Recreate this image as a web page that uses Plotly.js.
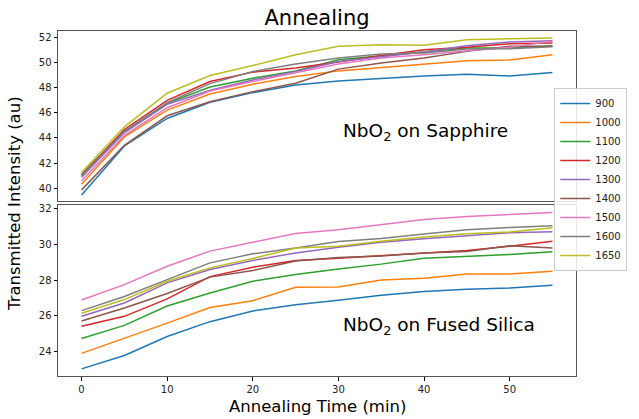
<!DOCTYPE html>
<html>
<head>
<meta charset="utf-8">
<script src="https://cdn.plot.ly/plotly-3.0.1.min.js"></script>
<style>html,body{margin:0;padding:0;background:#fff;}</style>
</head>
<body>
<div id="chart" style="width:639px;height:419px;"></div>
<script>
const times = [0, 5, 10, 15, 20, 25, 30, 35, 40, 45, 50, 55];
const temps = ['900', '1000', '1100', '1200', '1300', '1400', '1500', '1600', '1650'];
const colors = ['#1f77b4', '#ff7f0e', '#2ca02c', '#d62728', '#9467bd', '#8c564b', '#e377c2', '#7f7f7f', '#bcbd22'];

// NbO2 on Sapphire
const sapphire900  = [39.47, 43.36, 45.55, 46.83, 47.60, 48.21, 48.53, 48.75, 48.93, 49.07, 48.93, 49.20];
const sapphire1000 = [40.32, 44.08, 46.21, 47.49, 48.27, 48.88, 49.33, 49.60, 49.87, 50.13, 50.19, 50.61];
const sapphire1100 = [41.12, 44.53, 46.75, 48.05, 48.75, 49.33, 50.21, 50.53, 50.88, 51.15, 51.15, 51.33];
const sapphire1200 = [41.04, 44.67, 46.99, 48.48, 49.23, 49.55, 50.03, 50.56, 51.01, 51.20, 51.49, 51.55];
const sapphire1300 = [40.88, 44.43, 46.67, 47.79, 48.61, 49.28, 50.08, 50.48, 50.83, 51.33, 51.63, 51.73];
const sapphire1400 = [39.87, 43.41, 45.76, 46.88, 47.68, 48.35, 49.47, 49.95, 50.35, 50.88, 51.28, 51.28];
const sapphire1500 = [40.59, 44.21, 46.40, 47.73, 48.48, 49.15, 49.87, 50.35, 50.61, 50.93, 51.20, 51.68];
const sapphire1600 = [41.00, 44.53, 46.80, 48.32, 49.28, 49.87, 50.35, 50.67, 50.75, 51.07, 51.09, 51.25];
const sapphire1650 = [41.25, 44.88, 47.55, 48.96, 49.76, 50.61, 51.28, 51.41, 51.36, 51.81, 51.89, 51.95];

// NbO2 on Fused Silica
const silica900  = [23.02, 23.77, 24.84, 25.67, 26.27, 26.62, 26.87, 27.15, 27.37, 27.49, 27.56, 27.71];
const silica1000 = [23.89, 24.73, 25.59, 26.46, 26.85, 27.60, 27.62, 28.01, 28.11, 28.35, 28.35, 28.50];
const silica1100 = [24.73, 25.46, 26.55, 27.28, 27.94, 28.32, 28.63, 28.90, 29.23, 29.33, 29.44, 29.59];
const silica1200 = [25.41, 25.97, 26.95, 28.20, 28.73, 29.10, 29.23, 29.37, 29.52, 29.67, 29.91, 30.19];
const silica1300 = [25.97, 26.72, 27.85, 28.60, 29.10, 29.53, 29.85, 30.13, 30.32, 30.51, 30.66, 30.72];
const silica1400 = [25.71, 26.44, 27.25, 28.17, 28.54, 29.07, 29.27, 29.35, 29.53, 29.61, 29.93, 29.80];
const silica1500 = [26.89, 27.75, 28.78, 29.63, 30.13, 30.62, 30.83, 31.11, 31.41, 31.58, 31.69, 31.80];
const silica1600 = [26.29, 27.08, 28.03, 28.97, 29.48, 29.80, 30.17, 30.34, 30.59, 30.83, 30.96, 31.05];
const silica1650 = [26.14, 26.91, 27.94, 28.69, 29.22, 29.80, 29.91, 30.19, 30.42, 30.60, 30.70, 30.94];

const sapphire = [sapphire900, sapphire1000, sapphire1100, sapphire1200, sapphire1300, sapphire1400, sapphire1500, sapphire1600, sapphire1650];
const silica = [silica900, silica1000, silica1100, silica1200, silica1300, silica1400, silica1500, silica1600, silica1650];

const traces = [];
temps.forEach((t, i) => {
  traces.push({x: times, y: sapphire[i], type: 'scatter', mode: 'lines', name: t,
    line: {color: colors[i], width: 1.5}, xaxis: 'x', yaxis: 'y', legendgroup: t});
});
temps.forEach((t, i) => {
  traces.push({x: times, y: silica[i], type: 'scatter', mode: 'lines', name: t, showlegend: false,
    line: {color: colors[i], width: 1.5}, xaxis: 'x2', yaxis: 'y2', legendgroup: t});
});

const font = {family: 'DejaVu Sans, sans-serif', color: '#000'};
const tickfont = {family: 'DejaVu Sans, sans-serif', size: 10, color: '#222'};
const spine = '#555';

const layout = {
  width: 639, height: 419,
  margin: {l: 58, r: 55, t: 31, b: 43},
  paper_bgcolor: '#fff', plot_bgcolor: '#fff',
  font: font,
  title: {text: 'Annealing', font: {family: 'DejaVu Sans, sans-serif', size: 21, color: '#000'},
    x: 0.5, xref: 'paper', xanchor: 'center', y: 0.959, yref: 'container', yanchor: 'middle'},
  showlegend: true,
  legend: {x: 1.099, xanchor: 'right', y: 0.835, yanchor: 'top',
    bgcolor: 'rgba(255,255,255,0.85)', bordercolor: '#cccccc', borderwidth: 1,
    font: {family: 'DejaVu Sans, sans-serif', size: 10, color: '#222'},
    itemwidth: 30, tracegroupgap: 0},
  xaxis: {domain: [0, 1], anchor: 'y', range: [-2.75, 57.75], showgrid: false, zeroline: false,
    showline: true, mirror: true, linecolor: spine, linewidth: 1, ticks: '', showticklabels: false},
  yaxis: {domain: [0.507, 1], anchor: 'x', range: [38.98, 52.5], showgrid: false, zeroline: false,
    showline: true, mirror: true, linecolor: spine, linewidth: 1, ticks: 'outside', ticklen: 3.5,
    tickcolor: '#000', tickvals: [40, 42, 44, 46, 48, 50, 52], tickfont: tickfont},
  xaxis2: {domain: [0, 1], anchor: 'y2', matches: 'x', range: [-2.75, 57.75], showgrid: false, zeroline: false,
    showline: true, mirror: true, linecolor: spine, linewidth: 1, ticks: 'outside', ticklen: 3.5,
    tickcolor: '#000', tickvals: [0, 10, 20, 30, 40, 50], tickfont: tickfont},
  yaxis2: {domain: [0, 0.4957], anchor: 'x2', range: [22.62, 32.22], showgrid: false, zeroline: false,
    showline: true, mirror: true, linecolor: spine, linewidth: 1, ticks: 'outside', ticklen: 3.5,
    tickcolor: '#000', tickvals: [24, 26, 28, 30, 32], tickfont: tickfont},
  annotations: [
    {text: 'NbO<sub>2</sub> on Sapphire', xref: 'x', yref: 'y', x: 30.3, y: 44.5,
      xanchor: 'left', yanchor: 'middle', showarrow: false,
      font: {family: 'DejaVu Sans, sans-serif', size: 18.5, color: '#000'}},
    {text: 'NbO<sub>2</sub> on Fused Silica', xref: 'x2', yref: 'y2', x: 30.3, y: 25.4,
      xanchor: 'left', yanchor: 'middle', showarrow: false,
      font: {family: 'DejaVu Sans, sans-serif', size: 18.5, color: '#000'}},
    {text: 'Transmitted Intensity (au)', xref: 'paper', yref: 'paper', x: -0.084, y: 0.50,
      xanchor: 'center', yanchor: 'middle', textangle: -90, showarrow: false,
      font: {family: 'DejaVu Sans, sans-serif', size: 16.5, color: '#000'}},
    {text: 'Annealing Time (min)', xref: 'paper', yref: 'paper', x: 0.5, y: -0.087,
      xanchor: 'center', yanchor: 'middle', showarrow: false,
      font: {family: 'DejaVu Sans, sans-serif', size: 16.5, color: '#000'}}
  ]
};

Plotly.newPlot('chart', traces, layout, {displayModeBar: false, staticPlot: true});
</script>
</body>
</html>
